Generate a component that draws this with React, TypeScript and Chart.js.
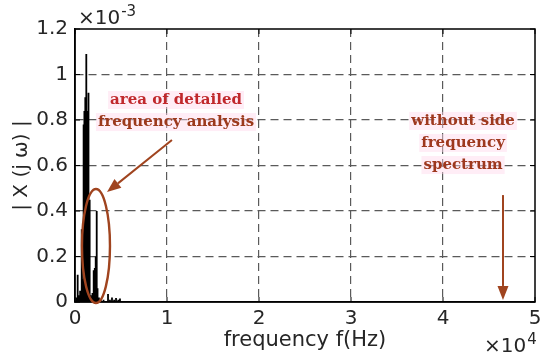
import React, { useEffect, useRef } from "react";
import { Chart, registerables } from "chart.js";

Chart.register(...registerables);

// Spectrum spikes: frequency (Hz) and magnitude (x 1e-3)
const spikeFreqs = [
  150, 290, 400, 560, 730, 800, 900, 960, 1020, 1087, 1140, 1196, 1250, 1310,
  1370, 1430, 1490, 1555, 1620, 1700, 1800, 1900, 1980, 2065, 2150, 2250, 2360,
  2450, 2600, 2800, 3100, 3590, 3800, 4020, 4250, 4460, 4700, 4890,
];
const spikeMags = [
  0.02, 0.12, 0.03, 0.05, 0.32, 0.1, 0.55, 0.78, 0.84, 0.86, 0.9, 1.09, 0.88,
  0.84, 0.82, 0.86, 0.92, 0.45, 0.08, 0.03, 0.02, 0.04, 0.1, 0.14, 0.15, 0.2,
  0.4, 0.06, 0.02, 0.01, 0.01, 0.035, 0.01, 0.02, 0.01, 0.018, 0.01, 0.015,
];
const xTickValues = [0, 10000, 20000, 30000, 40000, 50000];
const yTickValues = [0, 0.2, 0.4, 0.6, 0.8, 1.0, 1.2];

const xTitle = "frequency f(Hz)";
const yTitle = "| X (j ω) |";
const noteLeft = ["area of detailed", "frequency analysis"];
const noteRight = ["without side", "frequency", "spectrum"];

const SANS = "'DejaVu Sans', sans-serif";
const SERIF = "'DejaVu Serif', serif";

function arrow(ctx: CanvasRenderingContext2D, x1: number, y1: number, x2: number, y2: number, color: string) {
  const ang = Math.atan2(y2 - y1, x2 - x1);
  const hl = 14, hw = 5.5;
  const bx = x2 - hl * Math.cos(ang), by = y2 - hl * Math.sin(ang);
  ctx.save();
  ctx.strokeStyle = color;
  ctx.fillStyle = color;
  ctx.lineWidth = 2;
  ctx.beginPath();
  ctx.moveTo(x1, y1);
  ctx.lineTo(bx, by);
  ctx.stroke();
  ctx.beginPath();
  ctx.moveTo(x2, y2);
  ctx.lineTo(bx + hw * Math.sin(ang), by - hw * Math.cos(ang));
  ctx.lineTo(bx - hw * Math.sin(ang), by + hw * Math.cos(ang));
  ctx.closePath();
  ctx.fill();
  ctx.restore();
}

function supText(ctx: CanvasRenderingContext2D, base: string, exp: string, x: number, y: number) {
  ctx.save();
  ctx.fillStyle = "#262626";
  ctx.textAlign = "left";
  ctx.textBaseline = "alphabetic";
  ctx.font = `20px ${SANS}`;
  ctx.fillText(base, x, y);
  const w = ctx.measureText(base).width;
  ctx.font = `15px ${SANS}`;
  ctx.fillText(exp, x + w + 1, y - 8);
  ctx.restore();
}

const decorPlugin = {
  id: "decor",
  afterDraw(chart: any) {
    const { ctx, chartArea: ca, scales } = chart;
    const xs = scales.x, ys = scales.y;
    ctx.save();
    // frame
    ctx.strokeStyle = "#000";
    ctx.lineWidth = 1.5;
    ctx.strokeRect(ca.left, ca.top, ca.right - ca.left, ca.bottom - ca.top);
    // inward ticks
    ctx.lineWidth = 1;
    ctx.beginPath();
    xTickValues.forEach((v) => {
      const px = xs.getPixelForValue(v);
      ctx.moveTo(px, ca.bottom); ctx.lineTo(px, ca.bottom - 5);
      ctx.moveTo(px, ca.top); ctx.lineTo(px, ca.top + 5);
    });
    yTickValues.forEach((v) => {
      const py = ys.getPixelForValue(v);
      ctx.moveTo(ca.left, py); ctx.lineTo(ca.left + 5, py);
      ctx.moveTo(ca.right, py); ctx.lineTo(ca.right - 5, py);
    });
    ctx.stroke();

    // multipliers
    supText(ctx, "×10", "-3", ca.left + 3, ca.top - 5);
    supText(ctx, "×10", "4", ca.right - 51, ca.bottom + 50);

    // axis titles
    ctx.fillStyle = "#262626";
    ctx.font = `21px ${SANS}`;
    ctx.textAlign = "center";
    ctx.textBaseline = "alphabetic";
    ctx.fillText(xTitle, (ca.left + ca.right) / 2, ca.bottom + 44);
    ctx.save();
    ctx.translate(27, (ca.top + ca.bottom) / 2);
    ctx.rotate(-Math.PI / 2);
    ctx.font = `20px ${SANS}`;
    ctx.fillText(yTitle, 0, 0);
    ctx.restore();

    // ellipse around detailed area
    const red = "#a0441f";
    const ex = xs.getPixelForValue(2280);
    const ey = ys.getPixelForValue(0.246);
    ctx.strokeStyle = red;
    ctx.lineWidth = 2.4;
    ctx.beginPath();
    ctx.ellipse(ex, ey, 14, 57, 0, 0, Math.PI * 2);
    ctx.stroke();

    // arrows
    arrow(ctx, xs.getPixelForValue(10540), ys.getPixelForValue(0.712),
      xs.getPixelForValue(3480), ys.getPixelForValue(0.483), red);
    arrow(ctx, xs.getPixelForValue(46520), ys.getPixelForValue(0.47),
      xs.getPixelForValue(46520), ys.getPixelForValue(0.009), red);

    // notes
    ctx.font = `bold 15px ${SERIF}`;
    ctx.textAlign = "center";
    ctx.textBaseline = "middle";
    const drawNote = (lines: string[], cxv: number, yv: number[], colors: string[]) => {
      const cx = xs.getPixelForValue(cxv);
      lines.forEach((t, i) => {
        const y = ys.getPixelForValue(yv[i]);
        const w = ctx.measureText(t).width;
        ctx.fillStyle = "rgba(255,215,235,0.45)";
        ctx.fillRect(cx - w / 2 - 2, y - 9, w + 4, 18);
        ctx.fillStyle = colors[i];
        ctx.fillText(t, cx, y);
      });
    };
    drawNote(noteLeft, 10980, [0.888, 0.791], ["#c0282c", "#9c3a1c"]);
    drawNote(noteRight, 42180, [0.796, 0.699, 0.602], ["#9e381e", "#9e381e", "#9e381e"]);
    ctx.restore();
  },
};

export default function App() {
  const ref = useRef<HTMLCanvasElement>(null);
  useEffect(() => {
    document.body.style.margin = "0";
    const points: { x: number; y: number }[] = [];
    spikeFreqs.forEach((f, i) => {
      points.push({ x: f, y: 0 }, { x: f, y: spikeMags[i] }, { x: f, y: 0 });
    });
    const gridColor = (c: any) => {
      const v = c.tick ? c.tick.value : null;
      const s = c.scale;
      if (v === s.min || v === s.max) return "rgba(0,0,0,0)";
      return "#5a5a5a";
    };
    const chart = new Chart(ref.current!, {
      type: "line",
      data: {
        datasets: [
          {
            data: points,
            borderColor: "#000",
            borderWidth: 1.8,
            pointRadius: 0,
            tension: 0,
          },
        ],
      },
      options: {
        animation: false,
        responsive: false,
        layout: { padding: { top: 29, right: 15, left: 0, bottom: 0 } },
        plugins: { legend: { display: false }, tooltip: { enabled: false } },
        scales: {
          x: {
            type: "linear",
            min: 0,
            max: 50000,
            afterBuildTicks: (s: any) => { s.ticks = xTickValues.map((v) => ({ value: v })); },
            afterFit: (s: any) => { s.height = 59; },
            ticks: {
              callback: (v: any) => String(Number(v) / 10000),
              font: { family: SANS, size: 20 },
              color: "#262626",
              padding: 5,
              maxRotation: 0,
            },
            grid: { color: gridColor, lineWidth: 1.2, drawTicks: false },
            border: { display: true, color: "#000", width: 1.5, dash: [8, 5] },
          },
          y: {
            type: "linear",
            min: 0,
            max: 1.2,
            afterBuildTicks: (s: any) => { s.ticks = yTickValues.map((v) => ({ value: v })); },
            afterFit: (s: any) => { s.width = 75; },
            ticks: {
              callback: (v: any) => String(Math.round(Number(v) * 10) / 10),
              font: { family: SANS, size: 20 },
              color: "#262626",
              padding: 7,
            },
            grid: { color: gridColor, lineWidth: 1.2, drawTicks: false },
            border: { display: true, color: "#000", width: 1.5, dash: [8, 5] },
          },
        },
      },
      plugins: [decorPlugin],
    });
    return () => chart.destroy();
  }, []);
  return (
    <div style={{ width: 550, height: 361, background: "#fff" }}>
      <canvas ref={ref} width={550} height={361} />
    </div>
  );
}
